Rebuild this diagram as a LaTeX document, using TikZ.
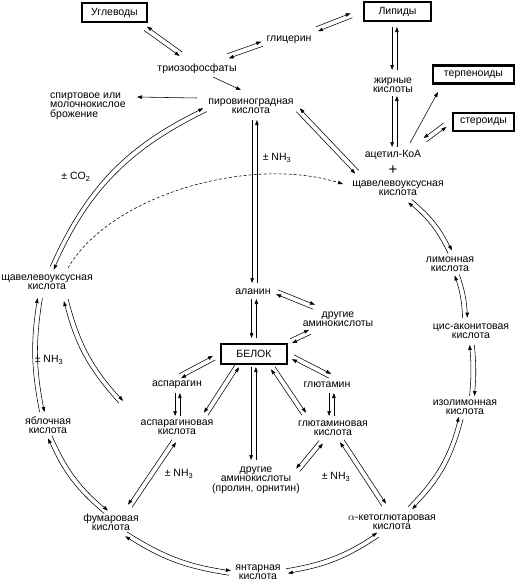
\documentclass[tikz,border=0pt]{standalone}
\usepackage{fontspec}
\setmainfont{Liberation Sans}
\usetikzlibrary{arrows.meta,calc}
\newcommand\dpairx[5]{%
  \path #4 coordinate (pA);
  \path #5 coordinate (pB);
  \draw[ar] ($(pA)!\gp!#1:(pB)$) to[bend left=#3] ($(pB)!\gp!#2:(pA)$);
  \draw[ar] ($(pB)!\gp!#1:(pA)$) to[bend right=#3] ($(pA)!\gp!#2:(pB)$);}
\newcommand\dpR[3][0]{\dpairx{-90}{90}{#1}{#2}{#3}}
\newcommand\dpL[3][0]{\dpairx{90}{-90}{#1}{#2}{#3}}
\begin{document}
\begin{tikzpicture}[x=1pt,y=-1pt,
  lbl/.style={inner sep=0pt,align=center,font=\fontsize{10.5}{9.5}\selectfont},
  bx/.style={draw,line width=2.2pt,fill=white,inner sep=0pt,font=\fontsize{10.5}{9.5}\selectfont},
  ar/.style={line width=0.55pt,-{Triangle[length=5pt,width=3.5pt]}},
  dsh/.style={ar,dash pattern=on 3pt off 2pt}]
\def\gp{2.4pt}
\path[use as bounding box] (0,0) rectangle (520,581);
% boxes
\node[bx,minimum width=65pt,minimum height=19pt] (ugl) at (114.5,12.5) {Углеводы};
\node[bx,minimum width=67pt,minimum height=19pt] (lip) at (397.5,11.5) {Липиды};
\node[bx,minimum width=81pt,minimum height=18pt] (terp) at (473.5,74.5) {терпеноиды};
\node[bx,minimum width=61pt,minimum height=18pt] (ster) at (483.5,122) {стероиды};
\node[bx,minimum width=66pt,minimum height=20pt] (prot) at (254,354) {БЕЛОК};
% labels
\node[lbl] (gly) at (289,40) {глицерин};
\node[lbl] (tri) at (197,69) {триозофосфаты};
\node[lbl,align=left,anchor=west] (ferm) at (50,106) {спиртовое или\\молочнокислое\\брожение};
\node[lbl] (pyr) at (251,106) {пировиноградная\\кислота};
\node[lbl] (fat) at (393,85) {жирные\\кислоты};
\node[lbl] (acet) at (393,155) {ацетил-КоА};
\node[lbl,font=\fontsize{15}{15}\selectfont] (plus) at (393,170) {+};
\node[lbl] (oaaR) at (398,188) {щавелевоуксусная\\кислота};
\node[lbl] (nh1) at (277,158) {± NH\textsubscript{3}};
\node[lbl] (co2) at (76,177) {± CO\textsubscript{2}};
\node[lbl] (oaaL) at (47,282) {щавелевоуксусная\\кислота};
\node[lbl] (ala) at (253,292) {аланин};
\node[lbl] (oth1) at (338,319) {другие\\аминокислоты};
\node[lbl] (asn) at (177,385) {аспарагин};
\node[lbl] (asp) at (177,427) {аспарагиновая\\кислота};
\node[lbl] (gln) at (327,385) {глютамин};
\node[lbl] (glu) at (333,428) {глютаминовая\\кислота};
\node[lbl] (oth2) at (256,480) {другие\\аминокислоты\\(пролин, орнитин)};
\node[lbl] (nhL) at (49,360) {± NH\textsubscript{3}};
\node[lbl] (nhAsp) at (179,474) {± NH\textsubscript{3}};
\node[lbl] (nhGlu) at (336,477) {± NH\textsubscript{3}};
\node[lbl] (mal) at (48,425) {яблочная\\кислота};
\node[lbl] (fum) at (111,522) {фумаровая\\кислота};
\node[lbl] (suc) at (258,572) {янтарная\\кислота};
\node[lbl] (akg) at (392,522) {$\alpha$-кетоглютаровая\\кислота};
\node[lbl] (iso) at (465,407) {изолимонная\\кислота};
\node[lbl] (cis) at (471,331) {цис-аконитовая\\кислота};
\node[lbl] (cit) at (450,264) {лимонная\\кислота};
% connectors
\dpR{([shift={(31,16)}]ugl.center)}{([shift={(-16,-15)}]tri.center)}
\dpL{([shift={(31,-13)}]tri.center)}{([shift={(-27,4)}]gly.center)}
\dpL{([shift={(28,-11)}]gly.center)}{([shift={(-46,4)}]lip.center)}
\draw[ar] ([shift={(16,8)}]tri.center) -- ([shift={(-10,-16)}]pyr.center);
\draw[ar] ([shift={(-54,-8)}]pyr.center) -- ([shift={(87,-9)}]ferm.west);
\dpR{([shift={(-3,15.5)}]lip.center)}{([shift={(1.5,-15)}]fat.center)}
\dpR{([shift={(1.5,11)}]fat.center)}{([shift={(1.5,-8)}]acet.center)}
\draw[ar] ([shift={(17,-12)}]acet.center) -- ([shift={(-35.5,17.5)}]terp.center);
\dpR{([shift={(32,-15)}]acet.center)}{([shift={(-38.5,3)}]ster.center)}
\dpR{([shift={(47,4)}]pyr.center)}{([shift={(-41,-16)}]oaaR.center)}
\dpR{([shift={(3.5,14)}]pyr.center)}{([shift={(1.5,-9)}]ala.center)}
\dpR{([shift={(1,7)}]ala.center)}{([shift={(0,-16)}]prot.center)}
\dpL{([shift={(24,0)}]ala.center)}{([shift={(-24,-12)}]oth1.center)}
\dpL{([shift={(-28,13)}]oth1.center)}{([shift={(37,-13)}]prot.center)}
\dpL{([shift={(-40,4)}]prot.center)}{([shift={(3,-9)}]asn.center)}
\dpR{([shift={(-17,12)}]prot.center)}{([shift={(29,-13)}]asp.center)}
\dpR{([shift={(0.5,8)}]asn.center)}{([shift={(0.5,-11)}]asp.center)}
\dpR{([shift={(-0.5,13)}]prot.center)}{([shift={(-2.5,-20)}]oth2.center)}
\dpL{([shift={(39,3)}]prot.center)}{([shift={(3,-9)}]gln.center)}
\dpL{([shift={(19,14)}]prot.center)}{([shift={(-29,-14)}]glu.center)}
\dpR{([shift={(4.5,8)}]gln.center)}{([shift={(-1.5,-12)}]glu.center)}
\dpR{([shift={(-12,14)}]glu.center)}{([shift={(42,-10)}]oth2.center)}
\dpL{([shift={(9,13)}]glu.center)}{([shift={(-8,-17)}]akg.center)}
\dpL[-15]{([shift={(18,-14)}]akg.center)}{([shift={(-4,11)}]iso.center)}
\dpL[-5]{([shift={(7,-11)}]iso.center)}{([shift={(1,14)}]cis.center)}
\dpL[-8]{([shift={(-6,-13)}]cis.center)}{([shift={(7,11)}]cit.center)}
\dpL[-12]{([shift={(0,-12)}]cit.center)}{([shift={(12,13)}]oaaR.center)}
\dpL[20]{([shift={(5,-14)}]oaaL.center)}{([shift={(-46,4)}]pyr.center)}
\dpL[10]{([shift={(-6,-13)}]mal.center)}{([shift={(-7,16)}]oaaL.center)}
\dpL[14]{([shift={(-56,-25)}]asp.center)}{([shift={(19,18)}]oaaL.center)}
\dpL[-13]{([shift={(2,12)}]mal.center)}{([shift={(-5,-10)}]fum.center)}
\dpR{([shift={(-3,14)}]asp.center)}{([shift={(19,-16)}]fum.center)}
\dpL[-12]{([shift={(15,12)}]fum.center)}{([shift={(-28,1)}]suc.center)}
\dpL[-12]{([shift={(29,-1)}]suc.center)}{([shift={(-14,13)}]akg.center)}
\draw[dsh] ([shift={(21,-14)}]oaaL.center) .. controls (110,195) and (250,155) .. ([shift={(-55,-4)}]oaaR.center);
\end{tikzpicture}
\end{document}
